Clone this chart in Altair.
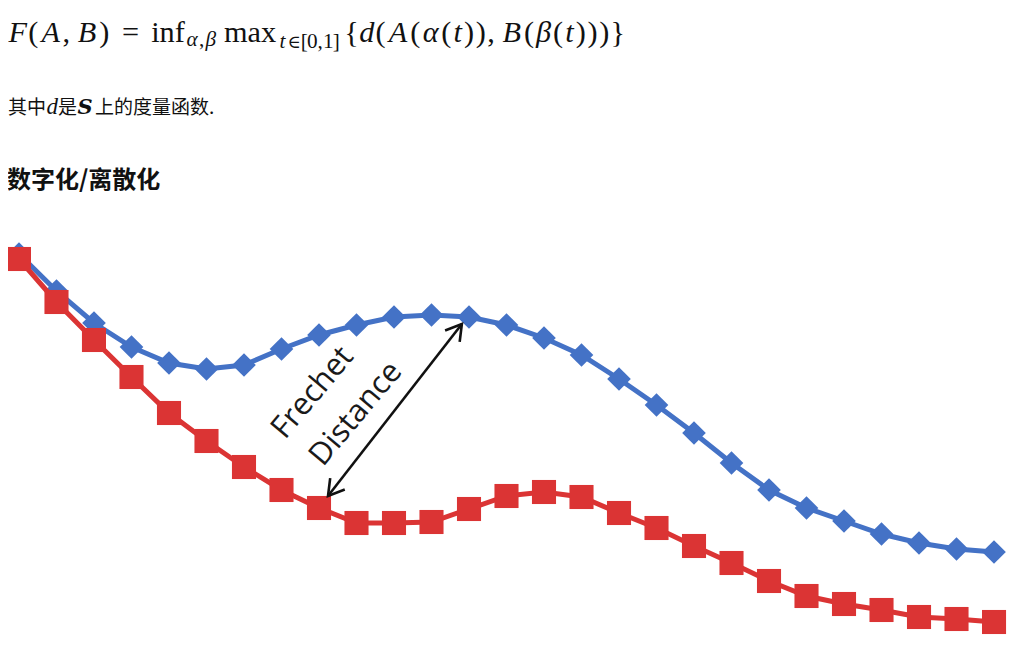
import altair as alt
import pandas as pd

# ---------------- data ----------------
idx = list(range(27))
blue_vals = [39.1, 35.4, 32.2, 29.8, 28.2, 27.6, 28.0, 29.6, 31.0, 32.0, 32.8, 33.0, 32.8,
             32.0, 30.7, 29.0, 26.6, 24.0, 21.2, 18.2, 15.5, 13.7, 12.4, 11.1, 10.2, 9.6, 9.3]
red_vals = [38.6, 34.3, 30.5, 26.8, 23.2, 20.4, 17.8, 15.5, 13.7, 12.2, 12.2, 12.3, 13.6,
            14.9, 15.3, 14.8, 13.2, 11.7, 9.9, 8.2, 6.4, 4.9, 4.1, 3.5, 2.8, 2.6, 2.3]
series_names = ["A", "B"]

# Frechet-distance arrow (data coordinates)
arrow_from = (8.24, 14.9)
arrow_to = (11.81, 32.1)
label_lines = ["Frechet", "Distance"]
label_pos = [(7.84, 25.2), (8.99, 23.1)]

# ---------------- page text ----------------
heading = "数字化/离散化"
W, H = 1012, 637
BLUE = "#4472C6"
RED = "#DB3434"
INK = "#111111"

xs = alt.Scale(domain=[-0.293, 26.693], nice=False, zero=False)
ys = alt.Scale(domain=[0, 63.7], nice=False, zero=False)

df = pd.DataFrame({
    "i": idx * 2,
    "v": blue_vals + red_vals,
    "s": [series_names[0]] * len(idx) + [series_names[1]] * len(idx),
})

base = alt.Chart(df).encode(
    x=alt.X("i:Q", scale=xs, axis=None),
    y=alt.Y("v:Q", scale=ys, axis=None),
)

blue_line = base.transform_filter(alt.datum.s == "A").mark_line(color=BLUE, strokeWidth=5)
blue_pts = base.transform_filter(alt.datum.s == "A").mark_point(
    shape="diamond", filled=True, size=560, color=BLUE, opacity=1)
red_line = base.transform_filter(alt.datum.s == "B").mark_line(color=RED, strokeWidth=5)
red_pts = base.transform_filter(alt.datum.s == "B").mark_point(
    shape="square", filled=True, size=580, color=RED, opacity=1)

arrow_df = pd.DataFrame({"x": [arrow_from[0]], "y": [arrow_from[1]],
                         "x2": [arrow_to[0]], "y2": [arrow_to[1]]})
arrow = alt.Chart(arrow_df).mark_rule(color=INK, strokeWidth=2.6).encode(
    x=alt.X("x:Q", scale=xs, axis=None), y=alt.Y("y:Q", scale=ys, axis=None),
    x2="x2:Q", y2="y2:Q")

chev = "M-0.6,1L0,0L0.6,1"
head_top = alt.Chart(pd.DataFrame({"x": [arrow_to[0]], "y": [arrow_to[1]]})).mark_point(
    shape=chev, filled=False, size=950, strokeWidth=2.6, color=INK, opacity=1, angle=38
).encode(x=alt.X("x:Q", scale=xs, axis=None), y=alt.Y("y:Q", scale=ys, axis=None))
head_bot = alt.Chart(pd.DataFrame({"x": [arrow_from[0]], "y": [arrow_from[1]]})).mark_point(
    shape=chev, filled=False, size=950, strokeWidth=2.6, color=INK, opacity=1, angle=218
).encode(x=alt.X("x:Q", scale=xs, axis=None), y=alt.Y("y:Q", scale=ys, axis=None))

lab_df = pd.DataFrame({"t": label_lines, "x": [p[0] for p in label_pos], "y": [p[1] for p in label_pos]})
labels = alt.Chart(lab_df).mark_text(
    font="Open Sans", fontSize=31, angle=310, align="center", baseline="middle", color="#1a1a1a"
).encode(x=alt.X("x:Q", scale=xs, axis=None), y=alt.Y("y:Q", scale=ys, axis=None), text="t:N")

# ---------------- formula laid out with math-font advance widths ----------------
FS = 30.3
SS = 0.7 * FS
basey = {"m": 34, "s1": 38, "s2": 40}
toks = [
    ("F", 0.643, "i", "m"), ("(", 0.389, "r", "m"), ("A", 0.75, "i", "m"), (",", 0.278, "r", "m"),
    ("", 0.167, "r", "m"), ("B", 0.759, "i", "m"), (")", 0.389, "r", "m"), ("", 0.278, "r", "m"),
    ("=", 0.778, "r", "m"), ("", 0.278, "r", "m"), ("inf", 1.14, "r", "m"),
    ("α", 0.64, "i", "s1"), (",", 0.278, "r", "s1"), ("β", 0.566, "i", "s1"),
    ("", 0.167, "r", "m"), ("max", 1.861, "r", "m"),
    ("t", 0.40, "i", "s2"), ("∈", 0.70, "r", "s2"), ("[", 0.26, "r", "s2"), ("0", 0.5, "r", "s2"),
    (",", 0.25, "r", "s2"), ("1", 0.5, "r", "s2"), ("]", 0.25, "r", "s2"),
    ("", 0.167, "r", "m"), ("{", 0.5, "r", "m"), ("d", 0.52, "i", "m"), ("(", 0.389, "r", "m"),
    ("A", 0.75, "i", "m"), ("(", 0.389, "r", "m"), ("α", 0.64, "i", "m"), ("(", 0.389, "r", "m"),
    ("t", 0.361, "i", "m"), (")", 0.389, "r", "m"), (")", 0.389, "r", "m"), (",", 0.278, "r", "m"),
    ("", 0.167, "r", "m"), ("B", 0.759, "i", "m"), ("(", 0.389, "r", "m"), ("β", 0.566, "i", "m"),
    ("(", 0.389, "r", "m"), ("t", 0.361, "i", "m"), (")", 0.389, "r", "m"), (")", 0.389, "r", "m"),
    (")", 0.389, "r", "m"), ("}", 0.5, "r", "m"),
]
groups = {}
cx = 0.0
for t, w, st, lv in toks:
    size = FS if lv == "m" else SS
    adv = w * size
    if t:
        key = (st, "m" if lv == "m" else "s")
        groups.setdefault(key, []).append({"t": t, "px": cx + adv / 2, "py": basey[lv]})
    cx += adv


def text_layer(rows, size, style="normal", weight="normal", font="Liberation Serif", align="center"):
    return alt.Chart(pd.DataFrame(rows)).mark_text(
        font=font, fontSize=size, fontStyle=style, fontWeight=weight, align=align,
        baseline="alphabetic", color=INK
    ).encode(x=alt.X("px:Q", scale=None, axis=None), y=alt.Y("py:Q", scale=None, axis=None),
             text="t:N")


formula_layers = []
for (st, lv), rows in groups.items():
    if st == "r" and lv == "s":
        # the element sign is drawn a little smaller so it does not crowd the t
        elem = [r for r in rows if r["t"] == "∈"]
        rest = [r for r in rows if r["t"] != "∈"]
        formula_layers.append(text_layer(rest, SS))
        formula_layers.append(text_layer(elem, SS * 0.85, font="DejaVu Serif"))
    else:
        formula_layers.append(text_layer(rows, FS if lv == "m" else SS, "italic" if st == "i" else "normal"))

CJK = "Noto Sans CJK SC"
line2_cjk = text_layer([{"t": "其中", "px": 0, "py": 106}, {"t": "是", "px": 50, "py": 106},
                        {"t": "上的度量函数.", "px": 87, "py": 106}], 19, font=CJK, align="left")
line2_d = text_layer([{"t": "d", "px": 38.5, "py": 106}], 23, "italic", align="left")
line2_S = text_layer([{"t": "S", "px": 69.5, "py": 106}], 21, "italic", "bold", font="DejaVu Serif",
                     align="left")
line3 = text_layer([{"t": heading, "px": -1, "py": 180}], 24, weight="bold", font=CJK, align="left")

chart = alt.layer(
    blue_line, blue_pts, red_line, red_pts, arrow, head_top, head_bot, labels,
    *formula_layers, line2_cjk, line2_d, line2_S, line3,
).resolve_scale(x="independent", y="independent").properties(
    width=W, height=H, padding=0, autosize=alt.AutoSizeParams(type="none"), background="white"
).configure_view(stroke=None)

chart.save("out.html", embed_options={"renderer": "svg", "actions": False})
